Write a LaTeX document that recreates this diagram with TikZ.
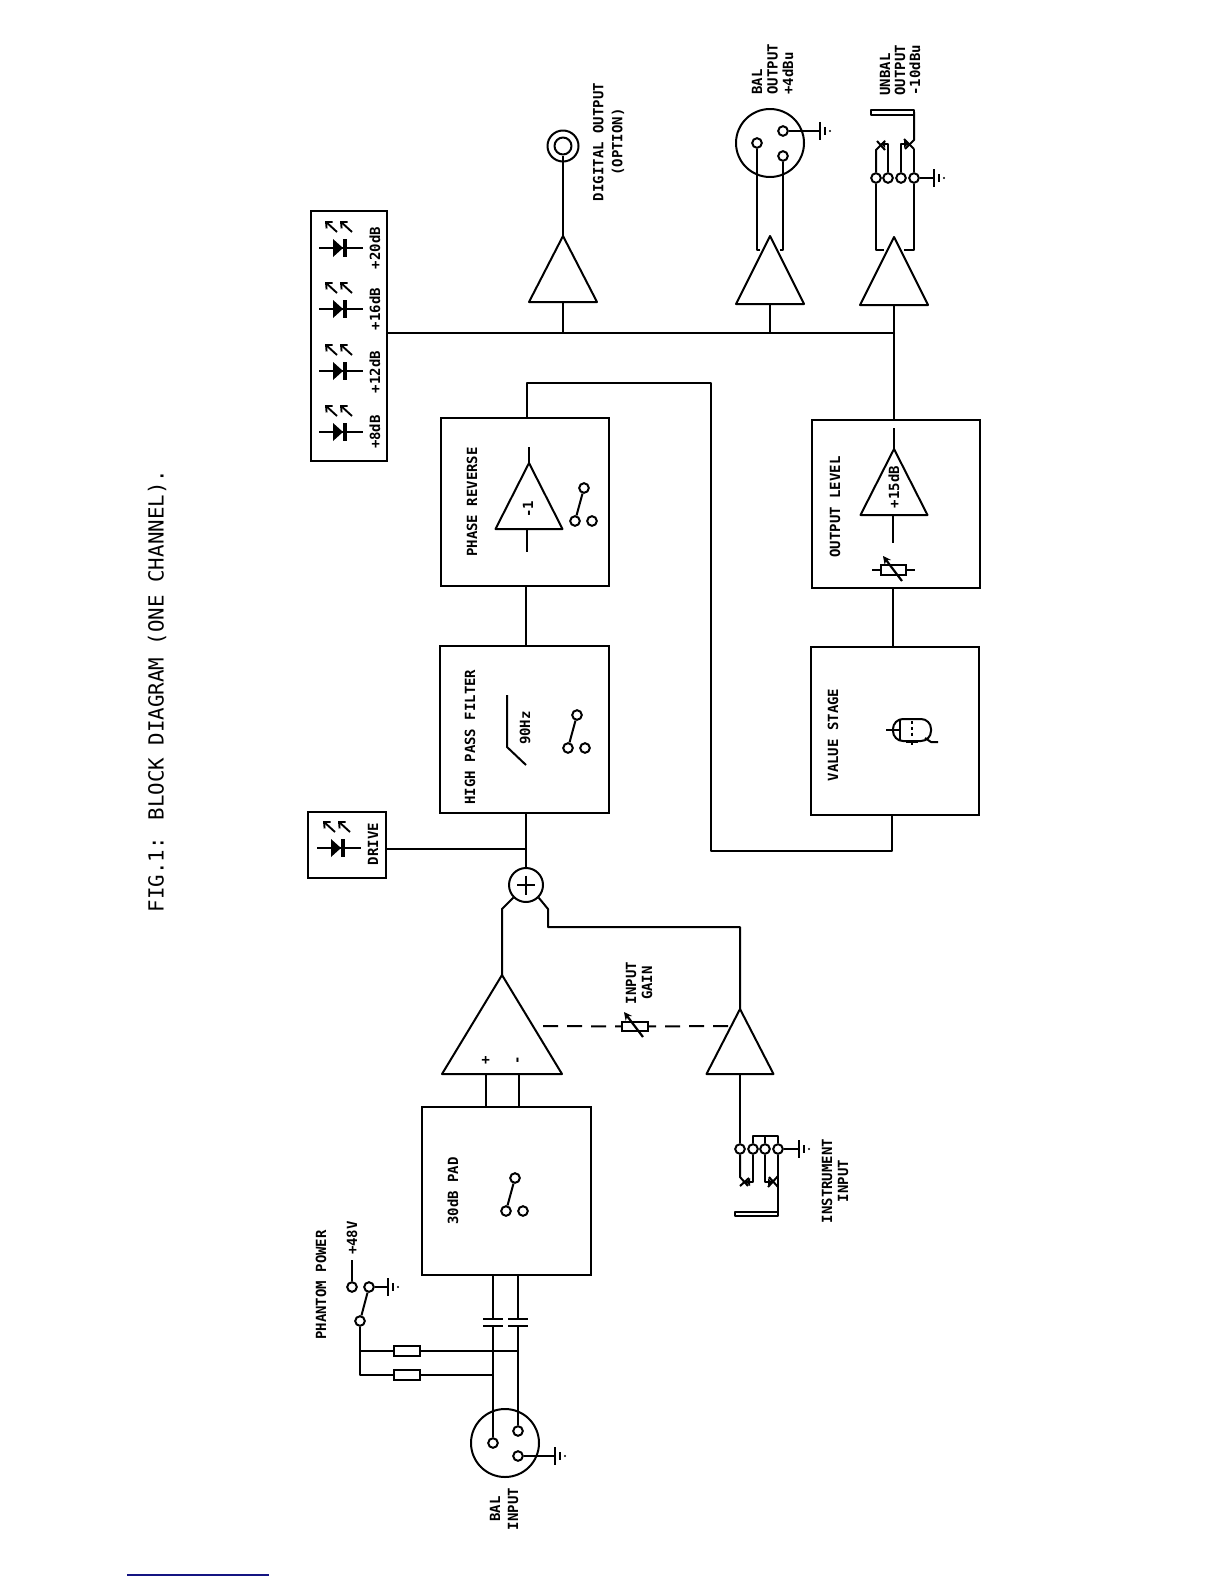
\documentclass[tikz,border=0pt]{standalone}
\usepackage{fontspec}
\setmainfont{DejaVu Sans Mono}
\usetikzlibrary{arrows.meta}
\definecolor{navyline}{RGB}{20,20,130}
\tikzset{
 wire/.style={line width=1pt,line join=round},
 blockbox/.style={draw,line width=1.05pt,rectangle,inner sep=0pt},
 pin/.style={draw,line width=1pt,circle,fill=white,inner sep=0pt,minimum size=4.8pt},
 lab/.style={rotate=90,inner sep=0pt,font=\fontsize{7}{8}\bfseries\selectfont},
 res/.style={draw,line width=1pt,rectangle,fill=white,inner sep=0pt,minimum width=13pt,minimum height=4.6pt},
 barb/.style={-{Straight Barb[length=2.4pt,width=4.4pt]},line width=0.95pt},
 sharpar/.style={-{Stealth[length=4pt,width=4pt]},line width=1.1pt}
}
\newcommand{\amptri}[5]{% name, x, yapex, ybase, halfwidth
 \coordinate (#1-a) at (#2,#3);
 \coordinate (#1-b) at (#2,#4);
 \draw[wire] (#2,#3) -- ({#2+#5},#4) -- ({#2-#5},#4) -- cycle;
}
\newcommand{\gndsym}[3]{% name, x, y
 \coordinate (#1) at (#2,#3);
 \draw[wire] (#2,{#3-9}) -- (#2,{#3+9});
 \draw[wire] ({#2+5},{#3-4}) -- ({#2+5},{#3+4});
 \fill ({#2+10},#3) circle (0.6pt);
}
\newcommand{\swsym}[3]{% name, x, y of moving contact
 \node[pin] (#1-t) at (#2,#3) {};
 \node[pin] (#1-l) at ({#2-9},{#3+33}) {};
 \node[pin] (#1-r) at ({#2+8},{#3+33}) {};
 \draw[wire] (#1-t) -- (#1-l);
}
\newcommand{\ledsym}[2]{% x of triangle base, y of wire
 \draw[wire] ({#1-14},#2) -- ({#1+30},#2);
 \fill ({#1},{#2-9}) -- ({#1+10},#2) -- ({#1},{#2+9}) -- cycle;
 \fill ({#1+10},{#2-9}) rectangle ({#1+14},{#2+9});
 \draw[barb] ({#1+4},{#2-16}) -- ({#1-8},{#2-27});
 \draw[barb] ({#1+19},{#2-16}) -- ({#1+7},{#2-27});
}
\begin{document}
\begin{tikzpicture}[x=0.5pt,y=-0.5pt]
\useasboundingbox (0,0) rectangle (1224,1584);

% title
\node[lab,font=\fontsize{10.4}{12}\selectfont] (title) at (157,691) {FIG.1: BLOCK DIAGRAM (ONE CHANNEL).};

% main blocks
\node[blockbox,minimum width=84.5pt,minimum height=84pt] (pad) at (506.5,1191) {};
\node[blockbox,minimum width=84pt,minimum height=84pt] (phase) at (525,502) {};
\node[blockbox,minimum width=84.5pt,minimum height=83.5pt] (hpf) at (524.5,729.5) {};
\node[blockbox,minimum width=84pt,minimum height=84pt] (outl) at (896,504) {};
\node[blockbox,minimum width=84pt,minimum height=84pt] (valve) at (895,731) {};
\node[blockbox,minimum width=38pt,minimum height=125pt] (ledbox) at (349,336) {};
\node[blockbox,minimum width=39pt,minimum height=33pt] (drivebox) at (347,845) {};

% block labels
\node[lab] (l30) at (453,1191) {30dB PAD};
\node[lab] (lph) at (472,502) {PHASE REVERSE};
\node[lab] (lhp) at (470,737) {HIGH PASS FILTER};
\node[lab] (lol) at (835,507) {OUTPUT LEVEL};
\node[lab] (lvs) at (833,735) {VALUE STAGE};
\node[lab] (l48) at (352,1238) {+48V};
\node[lab] (lpp) at (321,1285) {PHANTOM POWER};
\node[lab,align=center,font=\fontsize{7}{9}\bfseries\selectfont] (lbi) at (504,1509) {BAL\\INPUT};
\node[lab,align=center] (lig) at (639,983) {INPUT\\GAIN};
\node[lab,align=center] (lin) at (835,1181) {INSTRUMENT\\INPUT};
\node[lab,align=center,font=\fontsize{7}{9.5}\bfseries\selectfont] (ldo) at (608.5,142) {DIGITAL OUTPUT\\(OPTION)};
\node[lab,align=left,anchor=west,font=\fontsize{7}{7.75}\bfseries\selectfont] (lbo) at (772.5,95) {BAL\\OUTPUT\\+4dBu};
\node[lab,align=left,anchor=west,font=\fontsize{7}{7.5}\bfseries\selectfont] (luo) at (900,96) {UNBAL\\OUTPUT\\-10dBu};
\node[lab] (ldr) at (373,844) {DRIVE};
\node[lab] (l20) at (375,248) {+20dB};
\node[lab] (l16) at (375,309) {+16dB};
\node[lab] (l12) at (375,372) {+12dB};
\node[lab] (l8) at (375,432) {+8dB};

% LEDs
\ledsym{333}{248}
\ledsym{333}{309}
\ledsym{333}{371}
\ledsym{333}{432}
\ledsym{331}{848}

% amplifiers
\amptri{ma}{502}{975}{1074}{60}
\amptri{ia}{740}{1009}{1074}{33.5}
\amptri{pr}{529}{463}{529}{33.5}
\amptri{ol}{894}{449}{515}{33.5}
\amptri{da}{563}{236}{302}{34}
\amptri{ba}{770}{236}{304}{34}
\amptri{ua}{894}{237}{305}{34}
\node[lab] (lm1) at (528,509) {-1};
\node[lab] (l15) at (894,487) {+15dB};
\node[lab] (lpl) at (486,1060) {+};
\node[lab] (lmi) at (519,1060) {-};

% input XLR
\node[draw,wire,circle,inner sep=0pt,minimum size=34pt] (xin) at (505,1443) {};
\node[pin] (xin1) at (493,1443) {};
\node[pin] (xin2) at (518,1431) {};
\node[pin] (xin3) at (518,1456) {};
\gndsym{gxin}{555}{1456}
\draw[wire] (xin3) -- (gxin);

% lines pad -> caps -> XLR
\coordinate (c1u) at (493,1319);
\coordinate (c1d) at (493,1326);
\coordinate (c2u) at (518,1319);
\coordinate (c2d) at (518,1326);
\draw[wire] (483,1319) -- (503,1319);
\draw[wire] (483,1326) -- (503,1326);
\draw[wire] (508,1319) -- (528,1319);
\draw[wire] (508,1326) -- (528,1326);
\draw[wire] (c1u |- pad.south) -- (c1u);
\draw[wire] (c2u |- pad.south) -- (c2u);
\draw[wire] (c1d) -- (xin1);
\draw[wire] (c2d) -- (xin2);

% phantom feed
\node[res] (r1) at (406.5,1351) {};
\node[res] (r2) at (406.5,1375) {};
\node[pin] (ppole) at (360,1321) {};
\node[pin] (pc1) at (369,1287) {};
\node[pin] (pc2) at (352,1287) {};
\coordinate (v48) at (352,1260);
\gndsym{gph}{388}{1287}
\draw[wire] (ppole) -- (pc1);
\draw[wire] (pc2) -- (v48);
\draw[wire] (pc1) -- (gph);
\draw[wire] (ppole) |- (r2);
\draw[wire] (ppole |- r1) -- (r1);
\draw[wire] (r1) -- (r1 -| c2u);
\draw[wire] (r2) -- (r2 -| c1u);

% pad switch etc
\swsym{sp}{515}{1178}
\swsym{sh}{577}{715}
\swsym{sr}{584}{488}

% pad -> amp
\coordinate (mp) at (486,1074);
\coordinate (mm) at (519,1074);
\draw[wire] (mp) -- (mp |- pad.north);
\draw[wire] (mm) -- (mm |- pad.north);

% summing
\node[draw,wire,circle,inner sep=0pt,minimum size=17pt] (sum) at (526,885) {};
\draw[wire] (517,885) -- (535,885);
\draw[wire] (526,875.5) -- (526,894.5);
\draw[wire] (ma-a) -- (502,909) -- (sum.south west);
\coordinate (ir) at (548,927);
\draw[wire] (ia-a) |- (ir) -- (548,909) -- (sum.south east);
\draw[wire] (sum.north) -- (sum.north |- hpf.south);
\coordinate (dj) at (526,849);
\draw[wire] (drivebox.east |- dj) -- (dj);

% hpf / phase
\coordinate (hp) at (526,590);
\draw[wire] (hp |- phase.south) -- (hp |- hpf.north);
\draw[wire] (507,695) -- (507,747) -- (526,765);
\node[lab] (l90) at (525,728) {90Hz};
\draw[wire] (pr-a) -- (529,447);
\draw[wire] (527,529) -- (527,552);

% feedback
\coordinate (fb1) at (527,383);
\coordinate (fb2) at (711,383);
\coordinate (fb3) at (711,851);
\coordinate (fb4) at (892,851);
\draw[wire] (fb1 |- phase.north) -- (fb1) -- (fb2) -- (fb3) -- (fb4) -- (fb4 |- valve.south);

% valve -> output
\coordinate (vo) at (893,600);
\draw[wire] (vo |- valve.north) -- (vo |- outl.south);

% valve symbol
\draw[wire,rounded corners=5pt] (893,719) rectangle (931,741);
\draw[wire] (886,730) -- (900,730);
\draw[wire] (900,720) -- (900,740);
\draw[wire,dash pattern=on 1.6pt off 1.3pt] (912,721) -- (912,738);
\draw[wire] (906,742) -- (918,742);
\draw[wire] (912,741) -- (912,745);
\draw[wire] (925,738) -- (931,742) -- (938,742);

% output level contents
\draw[wire] (ol-a) -- (894,428);
\draw[wire] (893,515) -- (893,543);
\coordinate (vr1) at (872,570);
\coordinate (vr2) at (915,570);
\node[res,minimum width=12.5pt,minimum height=5pt] (vr) at (893.5,570) {};
\draw[wire] (vr1) -- (vr);
\draw[wire] (vr) -- (vr2);
\draw[sharpar] (902,581) -- (883,556);

% bus
\coordinate (bus) at (895,333);
\draw[wire] (bus) -- (bus -| ledbox.east);
\draw[wire] (da-b) -- (da-b |- bus);
\draw[wire] (ba-b) -- (ba-b |- bus);
\draw[wire] (ua-b) -- (ua-b |- bus);
\coordinate (ot) at (894,400);
\draw[wire] (ot |- outl.north) -- (ot |- bus);

% coax
\node[draw,wire,circle,inner sep=0pt,minimum size=15.5pt] (cxo) at (563,146) {};
\node[draw,wire,circle,inner sep=0pt,minimum size=8.5pt] (cxi) at (563,146) {};
\draw[wire] (da-a) -- (cxi);

% bal output
\node[draw,wire,circle,inner sep=0pt,minimum size=34pt] (xo) at (770,143) {};
\node[pin] (xo1) at (757,143) {};
\node[pin] (xo2) at (783,156) {};
\node[pin] (xo3) at (783,131) {};
\gndsym{gxo}{820}{131}
\draw[wire] (xo3) -- (gxo);
\coordinate (bl) at (757,250);
\coordinate (br) at (783,250);
\draw[wire] (xo1) -- (bl) -- (760,250);
\draw[wire] (xo2) -- (br) -- (780,250);

% unbal output
\node[pin] (uo1) at (876,178) {};
\node[pin] (uo2) at (888,178) {};
\node[pin] (uo3) at (901,178) {};
\node[pin] (uo4) at (914,178) {};
\gndsym{guo}{934}{178}
\draw[wire] (uo4) -- (guo);
\draw[wire] (uo1) -- (876,250) -- (884,250);
\draw[wire] (uo4) -- (914,250) -- (904,250);
\draw[wire] (uo1) -- (876,150) -- (885,141);
\draw[wire] (877,141) -- (885,150);
\draw[wire] (uo2) -- (888,144) -- (881,144);
\draw[wire] (uo3) -- (901,144) -- (908,144);
\draw[wire] (904,139) -- (914,149);
\draw[wire] (905,149) -- (914,140) -- (914,112);
\draw[wire] (uo4) -- (914,149);
\draw[wire] (871,110.5) rectangle (914,115);
\fill (881,144) -- (885,140) -- (885,148) -- cycle;
\fill (908,144) -- (904,140) -- (904,148) -- cycle;

% instrument input
\node[pin] (in1) at (740,1149) {};
\node[pin] (in2) at (753,1149) {};
\node[pin] (in3) at (765,1149) {};
\node[pin] (in4) at (778,1149) {};
\gndsym{gin}{799}{1149}
\draw[wire] (in4) -- (gin);
\draw[wire] (ia-b) -- (in1);
\draw[wire] (in2) |- (753,1136) -- (778,1136) -- (in4);
\draw[wire] (in3) -- (765,1136);
\draw[wire] (in1) -- (740,1177) -- (748,1186);
\draw[wire] (740,1186) -- (749,1178);
\draw[wire] (in2) -- (753,1182) -- (746,1182);
\draw[wire] (in3) -- (765,1182) -- (772,1182);
\draw[wire] (769,1177) -- (778,1187);
\draw[wire] (768,1187) -- (778,1176);
\draw[wire] (in4) -- (778,1212);
\draw[wire] (735,1212) rectangle (778,1216);
\fill (746,1182) -- (750,1178) -- (750,1186) -- cycle;
\fill (772,1182) -- (768,1178) -- (768,1186) -- cycle;

% input gain
\node[res,minimum width=13pt,minimum height=4.6pt] (vg) at (635,1026.5) {};
\coordinate (dl) at (543,1026);
\coordinate (dr) at (728,1026);
\draw[wire,dash pattern=on 7.5pt off 4.5pt] (dl) -- (vg);
\draw[wire,dash pattern=on 7.5pt off 4.5pt] (dr) -- (vg);
\draw[sharpar] (643,1037) -- (624,1012);

% bottom rule
\draw[navyline,line width=0.7pt] (127,1575) -- (269,1575);
\end{tikzpicture}
\end{document}
